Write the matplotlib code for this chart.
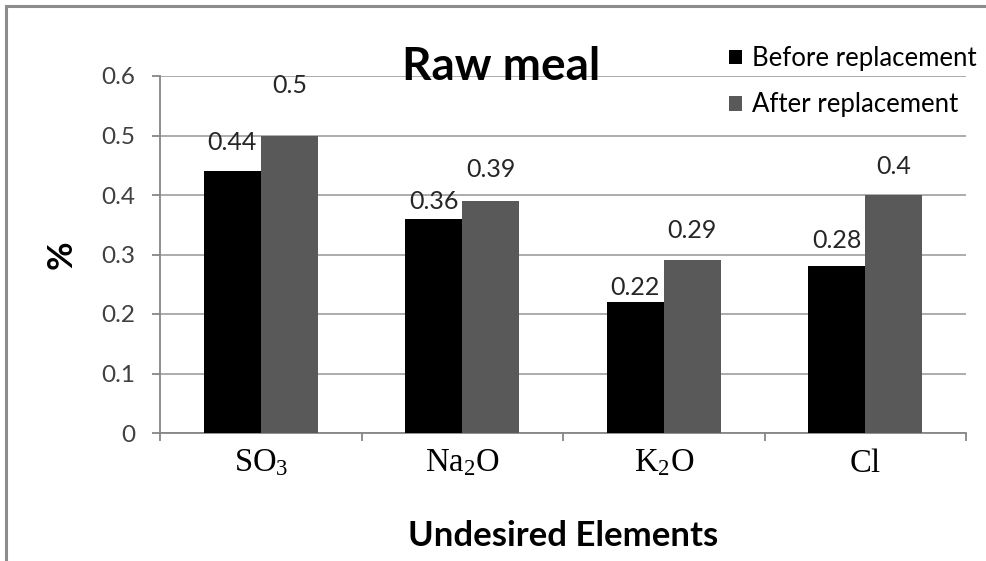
import matplotlib
matplotlib.use("Agg")
import matplotlib.pyplot as plt
from matplotlib.patches import Rectangle
import numpy as np

categories = [r"$\mathrm{SO_3}$", r"$\mathrm{Na_2O}$", r"$\mathrm{K_2O}$", r"$\mathrm{Cl}$"]
before = [0.44, 0.36, 0.22, 0.28]
after = [0.50, 0.39, 0.29, 0.40]
before_labels = ["0.44", "0.36", "0.22", "0.28"]
after_labels = ["0.5", "0.39", "0.29", "0.4"]
yticks = [0, 0.1, 0.2, 0.3, 0.4, 0.5, 0.6]
ytick_labels = ["0", "0.1", "0.2", "0.3", "0.4", "0.5", "0.6"]

# label placement (pixels above bar top), styling only
before_off_px = [29, 17, 15, 26]
after_off_px = [50, 31, 30, 29]

plt.rcParams['mathtext.fontset'] = 'custom'
plt.rcParams['mathtext.rm'] = 'Liberation Serif'
plt.rcParams['mathtext.it'] = 'Liberation Serif:italic'
plt.rcParams['mathtext.bf'] = 'Liberation Serif:bold'
sans = ['Lato', 'DejaVu Sans']

DPI = 100
px2pt = 72 / DPI

fig = plt.figure(figsize=(9.86, 5.61), dpi=DPI)
ax = fig.add_axes([160/986, 1-433/561, (966-160)/986, (433-76)/561])

x = np.arange(len(categories))
w = 0.283
grid_c = '#a6a6a6'
axis_c = '#868686'

ax.set_axisbelow(True)
ax.yaxis.grid(True, color=grid_c, linewidth=1.3)
b1 = ax.bar(x - w/2, before, w, color='black', label='Before replacement', zorder=3)
b2 = ax.bar(x + w/2, after, w, color='#595959', label='After replacement', zorder=3)

for xi, v, t, o in zip(x, before, before_labels, before_off_px):
    ax.annotate(t, (xi - w/2, v), xytext=(0, o * px2pt), textcoords='offset points',
                ha='center', va='center', fontsize=18, family=sans, color='#262626')
for xi, v, t, o in zip(x, after, after_labels, after_off_px):
    ax.annotate(t, (xi + w/2, v), xytext=(0, o * px2pt), textcoords='offset points',
                ha='center', va='center', fontsize=18, family=sans, color='#262626')

ax.set_xlim(-0.5, len(categories) - 0.5)
ax.set_ylim(0, 0.6)
ax.set_yticks(yticks)
ax.set_yticklabels(ytick_labels, family=sans, fontsize=17.5, color='#404040')
ax.set_xticks(x)
ax.set_xticklabels(categories, fontsize=23.5)
ax.tick_params(axis='x', length=0, pad=9)
ax.set_xticks(np.arange(-0.5, len(categories)), minor=True)
ax.tick_params(axis='x', which='minor', length=6, color=axis_c, width=1.3)
ax.tick_params(axis='y', length=6, color=axis_c, width=1.3, pad=12)

for s in ['top', 'right']:
    ax.spines[s].set_visible(False)
ax.spines['left'].set_color(axis_c)
ax.spines['bottom'].set_color(axis_c)
ax.spines['left'].set_linewidth(1.3)
ax.spines['bottom'].set_linewidth(1.3)

ax.set_xlabel('Undesired Elements', family=sans, fontweight='bold', fontsize=25, labelpad=30)
ax.set_ylabel('%', family=sans, fontweight='bold', fontsize=25, labelpad=17)

fig.text(501/986, 1-67/561, 'Raw meal', family=sans, fontweight='bold', fontsize=33,
         ha='center', va='center')

leg = fig.legend(handles=[b1, b2], loc='upper left', bbox_to_anchor=(729/986, 1-46/561),
                 frameon=False, prop={'family': sans, 'size': 18.5}, handlelength=0.5,
                 handleheight=0.5, handletextpad=0.4, labelspacing=0.83,
                 borderpad=0, borderaxespad=0)

fig.patches.append(Rectangle((6/986, -0.01), 1.0, 1-6/561+0.01, transform=fig.transFigure,
                             fill=False, edgecolor='#8c8c8c', linewidth=2.2, zorder=0))

fig.savefig('out.png', dpi=DPI, facecolor='white')
